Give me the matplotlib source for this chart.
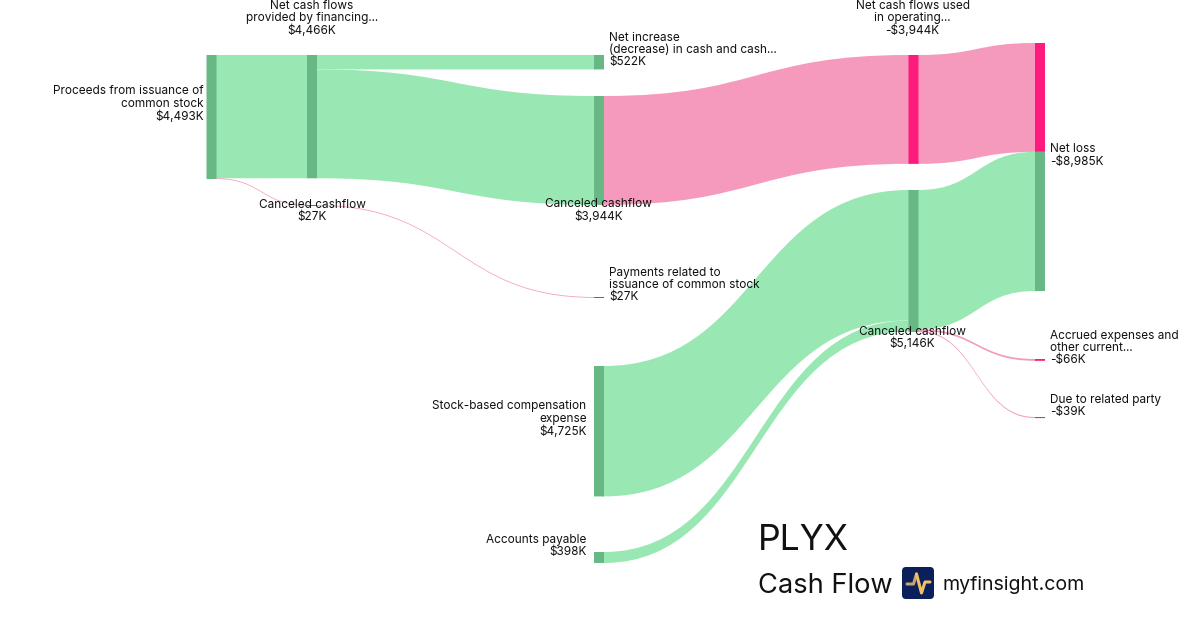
import numpy as np
import matplotlib
matplotlib.use("Agg")
import matplotlib.pyplot as plt
from matplotlib.path import Path
from matplotlib.patches import PathPatch, Rectangle, FancyBboxPatch

plt.rcParams['font.family'] = ['Inter', 'DejaVu Sans']

# ---- data (thousands of USD) ----
node_labels = [
    "Proceeds from issuance of\ncommon stock",
    "Net cash flows\nprovided by financing...",
    "Canceled cashflow",
    "Net increase\n(decrease) in cash and cash...",
    "Canceled cashflow",
    "Payments related to\nissuance of common stock",
    "Stock-based compensation\nexpense",
    "Accounts payable",
    "Net cash flows used\nin operating...",
    "Canceled cashflow",
    "Net loss",
    "Accrued expenses and\nother current...",
    "Due to related party",
]
node_values = [4493, 4466, 27, 522, 3944, 27, 4725, 398, -3944, 5146, -8985, -66, -39]
link_sources = [0, 0, 1, 1, 4, 2, 6, 7, 8, 9, 9, 9]
link_targets = [1, 2, 3, 4, 8, 5, 9, 9, 10, 10, 11, 12]
link_values = [4466, 27, 522, 3944, 3944, 27, 4725, 398, 3944, 5041, 66, 39]
link_kinds = ["in", "out", "in", "in", "out", "out", "in", "in", "out", "in", "out", "out"]
title = "PLYX"
subtitle = "Cash Flow"
site = "myfinsight.com"

# ---- layout ----
PX_PER_K = 0.0276
NODE_W = 10
col_x = [206.5, 307, 594, 908.5, 1035]
node_col = [0, 1, 1, 2, 2, 2, 2, 2, 3, 3, 4, 4, 4]
node_top = [55, 55, 205, 55, 96, 297, 366, 552, 55, 190, 43, 359, 417]
# label: (x, y centre, ha)
label_pos = [
    (203.5, 104, 'right'), (312, 18.5, 'center'), (312, 211, 'center'),
    (609, 50, 'left'), (598.5, 210.5, 'center'), (609, 285, 'left'),
    (586.5, 419, 'right'), (586.5, 546, 'right'), (912.5, 18.5, 'center'),
    (912.5, 338, 'center'), (1050, 155.5, 'left'), (1050, 348, 'left'),
    (1050, 406, 'left'),
]
GREEN_LINK, GREEN_NODE = "#99E8B3", "#67B884"
PINK_LINK, PINK_NODE = "#F59ABC", "#FF1A7E"
INK = "#111111"


def money(v):
    return f"-${abs(v):,}K" if v < 0 else f"${v:,}K"


fig = plt.figure(figsize=(12, 6.3), dpi=100, facecolor="white")
ax = fig.add_axes([0, 0, 1, 1])
ax.set_xlim(0, 1200)
ax.set_ylim(630, 0)
ax.axis("off")


def band(x0, x1, y0, y1, h, color):
    xm = (x0 + x1) / 2
    # short straight stubs run underneath the nodes so no seam shows beside them
    verts = [(x0 - 2, y0), (x0, y0), (xm, y0), (xm, y1), (x1, y1), (x1 + 2, y1),
             (x1 + 2, y1 + h), (x1, y1 + h), (xm, y1 + h), (xm, y0 + h), (x0, y0 + h),
             (x0 - 2, y0 + h), (x0 - 2, y0)]
    codes = [Path.MOVETO, Path.LINETO, Path.CURVE4, Path.CURVE4, Path.CURVE4, Path.LINETO,
             Path.LINETO, Path.LINETO, Path.CURVE4, Path.CURVE4, Path.CURVE4,
             Path.LINETO, Path.CLOSEPOLY]
    ax.add_patch(PathPatch(Path(verts, codes), facecolor=color, edgecolor="none", zorder=1))


out_off = [0.0] * len(node_labels)
in_off = [0.0] * len(node_labels)
for s, t, v, kind in zip(link_sources, link_targets, link_values, link_kinds):
    h = max(v * PX_PER_K, 0.8)
    x0 = col_x[node_col[s]] + NODE_W
    x1 = col_x[node_col[t]]
    y0 = node_top[s] + out_off[s]
    y1 = node_top[t] + in_off[t]
    out_off[s] += v * PX_PER_K
    in_off[t] += v * PX_PER_K
    band(x0, x1, y0, y1, h, GREEN_LINK if kind == "in" else PINK_LINK)

pink_nodes = {2, 5, 8, 11, 12}
NET_LOSS = node_labels.index("Net loss")
for i, v in enumerate(node_values):
    x = col_x[node_col[i]]
    if i == NET_LOSS:
        # the sink is coloured segment by segment, after its incoming links
        y = node_top[i]
        for t, lv, kind in zip(link_targets, link_values, link_kinds):
            if t == i:
                ax.add_patch(Rectangle((x, y), NODE_W, lv * PX_PER_K,
                                       facecolor=PINK_NODE if kind == "out" else GREEN_NODE,
                                       edgecolor="none", zorder=2, snap=False))
                y += lv * PX_PER_K
        continue
    h = max(abs(v) * PX_PER_K, 1.0)
    ax.add_patch(Rectangle((x, node_top[i]), NODE_W, h,
                           facecolor=PINK_NODE if i in pink_nodes else GREEN_NODE,
                           edgecolor="none", zorder=2, snap=False))

for name, v, (x, y, ha) in zip(node_labels, node_values, label_pos):
    ax.text(x, y, f"{name}\n{money(v)}", ha=ha, va="center", multialignment=ha,
            fontsize=8.5, color=INK, linespacing=1.04, zorder=3)

ax.text(757.5, 541, title, fontsize=25.6, color=INK, va="center", ha="left", zorder=3)
ax.text(757.5, 586, subtitle, fontsize=19.6, color=INK, va="center", ha="left", zorder=3)
ax.text(942.5, 585, site, fontsize=14.1, color=INK, va="center", ha="left", zorder=3)

# logo
ax.add_patch(FancyBboxPatch((902, 567), 32, 32, boxstyle="round,pad=0,rounding_size=4",
                            mutation_aspect=1, facecolor="#0B1F5B", edgecolor="none",
                            zorder=2))
ax.plot([907, 913.5, 916.5], [584, 584, 574], color="#C9A274", lw=2.2,
        solid_capstyle="round", solid_joinstyle="round", zorder=3)
ax.plot([916.5, 921.5, 925, 930], [574, 593, 582, 582], color="#EFC166", lw=2.2,
        solid_capstyle="round", solid_joinstyle="round", zorder=3)

fig.savefig("out.png", dpi=100, facecolor="white")
